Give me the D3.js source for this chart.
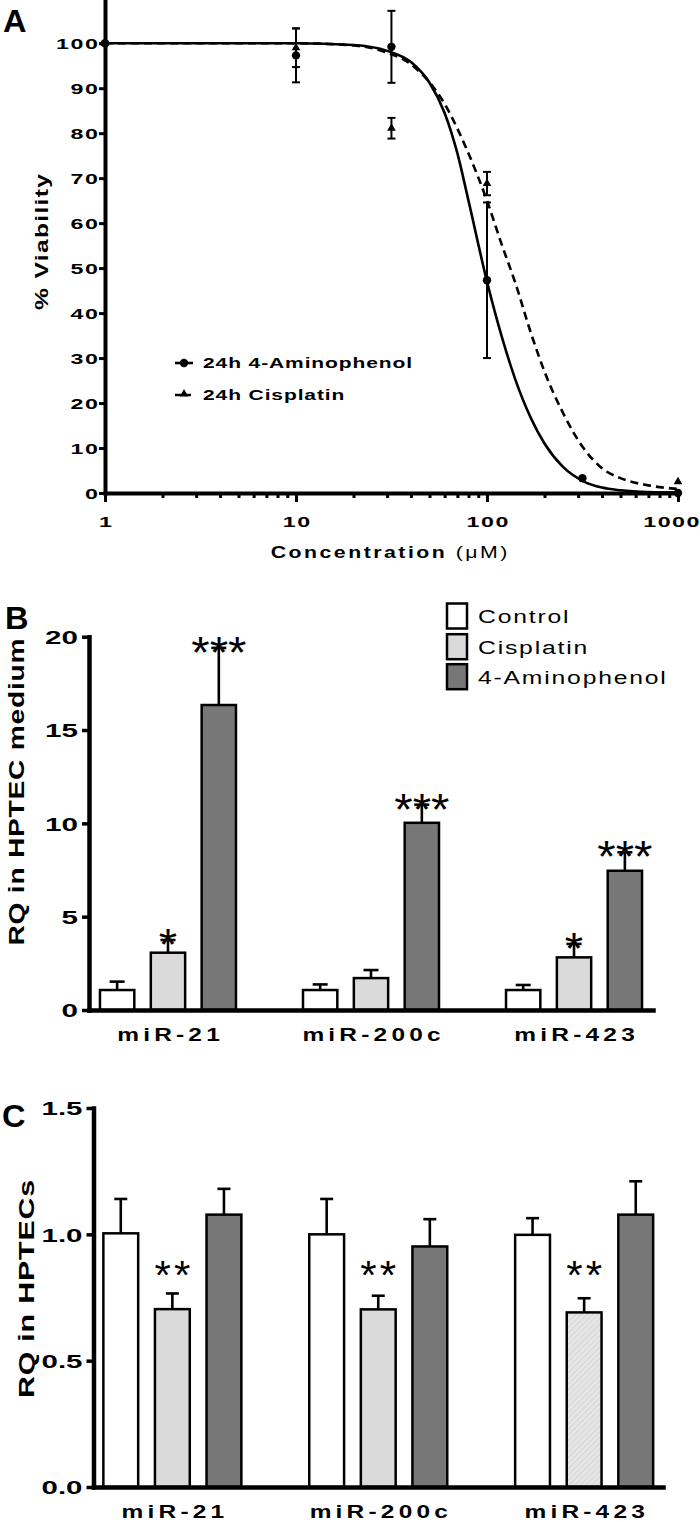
<!DOCTYPE html>
<html><head><meta charset="utf-8">
<script src="https://cdn.jsdelivr.net/npm/d3@7"></script>
<style>body{margin:0;background:#fff}</style>
</head><body>
<svg id="c" width="700" height="1522" xmlns="http://www.w3.org/2000/svg"></svg>
<script>
// ---------- Panel A data ----------
const aminoConc = [1, 10, 31.6, 100, 316, 1000];
const aminoMean = [100, 97.3, 99.2, 47.3, 3.3, 0];
const aminoSD   = [0, 6, 8, 17.3, 0, 0];
const cisConc   = [1, 10, 31.6, 100, 1000];
const cisMean   = [100, 99, 81.1, 68.8, 2.5];
const cisSD     = [0, 4.3, 2.3, 2.6, 0];
// fitted curves
const fitConc  = [1, 10, 20, 30, 40, 50, 60, 70, 80, 100, 120, 140, 170, 200, 250, 320, 400, 500, 700, 1000];
const fitAmino = [100, 100, 99.6, 98.3, 95.8, 91.2, 84.5, 75.5, 65, 47, 34.5, 25.5, 16.6, 11, 5.8, 2.6, 1.2, 0.6, 0.2, 0.1];
const fitCis   = [100, 100, 99.5, 97.9, 95.3, 91.3, 86.5, 81, 75.5, 65, 55, 47, 35.5, 27, 17.8, 10, 5.5, 3.3, 1.7, 0.9];
const xTicksA = [1, 10, 100, 1000];
const xTickLabelsA = ["1", "10", "100", "1000"];
const yTicksA = [0, 10, 20, 30, 40, 50, 60, 70, 80, 90, 100];
const legendA = ["24h 4-Aminophenol", "24h Cisplatin"];

// ---------- Panels B / C data ----------
const mirs = ["miR-21", "miR-200c", "miR-423"];
const treatments = ["Control", "Cisplatin", "4-Aminophenol"];
const mediumControl    = [1.07, 1.07, 1.07];
const mediumControlErr = [0.45, 0.30, 0.27];
const mediumCis        = [3.07, 1.71, 2.82];
const mediumCisErr     = [0.68, 0.43, 0.72];
const mediumAmino      = [16.34, 10.03, 7.46];
const mediumAminoErr   = [3.06, 0.97, 0.99];
const mediumStars      = [["", "*", "***"], ["", "", "***"], ["", "*", "***"]];
const yTicksB = [0, 5, 10, 15, 20];

const cellControl    = [1.004, 1.0, 0.998];
const cellControlErr = [0.136, 0.14, 0.066];
const cellCis        = [0.704, 0.703, 0.691];
const cellCisErr     = [0.062, 0.054, 0.056];
const cellAmino      = [1.078, 0.952, 1.078];
const cellAminoErr   = [0.102, 0.108, 0.132];
const cellStars      = [["", "**", ""], ["", "**", ""], ["", "**", ""]];
const yTicksC = [0, 0.5, 1.0, 1.5];
const yTickLabelsC = ["0.0", "0.5", "1.0", "1.5"];

// ---------- helpers ----------
const FONT = "'Liberation Sans', Arial, Helvetica, sans-serif";
const svg = d3.select("#c");
const fills = {"Control": "#ffffff", "Cisplatin": "#dadada", "4-Aminophenol": "#777777"};

function txt(g, x, y, s, o) {
  const ls = o.ls || 0, sx = o.sx || 1, anchor = o.anchor || "start";
  let comp = 0;
  if (anchor === "end") comp = ls; else if (anchor === "middle") comp = ls / 2;
  const t = g.append("text")
    .attr("transform", `translate(${x},${y}) rotate(${o.rot || 0}) scale(${sx},1)`)
    .attr("x", comp)
    .attr("font-family", FONT).attr("font-size", o.size)
    .attr("font-weight", o.weight || "normal")
    .attr("letter-spacing", ls).attr("text-anchor", anchor)
    .attr("fill", "#000");
  if (s !== null) t.text(s);
  return t;
}
function styleTickText(axisG, o) {
  const ls = o.ls || 0;
  let comp = 0;
  if (o.anchor === "end") comp = ls; else if (o.anchor === "middle") comp = ls / 2;
  axisG.selectAll("text")
    .attr("x", comp).attr("y", null).attr("dy", null)
    .attr("font-family", FONT).attr("font-size", o.size).attr("font-weight", "bold")
    .attr("letter-spacing", ls).attr("text-anchor", o.anchor).attr("fill", "#000")
    .attr("transform", `translate(${o.dx},${o.dy}) scale(${o.sx},1)`);
}

// ================= Panel A =================
const gA = svg.append("g");
const xA = d3.scaleLog().domain([1, 1000]).range([105, 678]);
const yA = d3.scaleLinear().domain([0, 109.5]).range([493, 0.5]);

txt(gA, 3, 32, "A", {size: 31, weight: "bold", sx: 1.05});

// y axis
const yAxA = gA.append("g").attr("transform", "translate(105,0)")
  .call(d3.axisLeft(yA).tickValues(yTicksA).tickSize(6).tickSizeOuter(0).tickFormat(d3.format("d")));
yAxA.select(".domain").attr("stroke-width", 4).attr("stroke-linecap", "square");
yAxA.selectAll(".tick line").attr("stroke-width", 3);
styleTickText(yAxA, {size: 14.5, sx: 1.6, ls: 1, anchor: "end", dx: -7, dy: 5});

// x axis minor ticks
const minorA = [];
[1, 10, 100].forEach(dec => { for (let k = 2; k <= 9; k++) minorA.push(dec * k); });
const xMinA = gA.append("g").attr("transform", "translate(0,493)")
  .call(d3.axisBottom(xA).tickValues(minorA).tickSize(5).tickSizeOuter(0).tickFormat(""));
xMinA.select(".domain").remove();
xMinA.selectAll(".tick line").attr("stroke-width", 3);
// x axis major
const xAxA = gA.append("g").attr("transform", "translate(0,493)")
  .call(d3.axisBottom(xA).tickValues(xTicksA).tickSize(9).tickSizeOuter(0)
    .tickFormat((d, i) => xTickLabelsA[i]));
xAxA.select(".domain").attr("stroke-width", 4).attr("stroke-linecap", "square");
xAxA.selectAll(".tick line").attr("stroke-width", 3);
styleTickText(xAxA, {size: 14.5, sx: 1.6, ls: 1, anchor: "middle", dx: 0, dy: 34});
// keep the last label inside the picture (it touches the right edge in the reference)
xAxA.selectAll(".tick").filter(d => d === 1000).select("text")
  .attr("text-anchor", "end").attr("x", 1).attr("transform", `translate(${699 - xA(1000)},34) scale(1.6,1)`);

// axis titles
txt(gA, 48, 242, "% Viability", {size: 19, weight: "bold", sx: 1.3, ls: 1, anchor: "middle", rot: -90});
const xt = txt(gA, 389, 558, null, {size: 17, weight: "bold", sx: 1.25, ls: 2, anchor: "middle"});
xt.append("tspan").text("Concentration");
xt.append("tspan").attr("font-weight", "normal").text(" (\u03bcM)");

// curves
const lineA = d3.line().x(d => xA(d[0])).y(d => yA(d[1])).curve(d3.curveMonotoneX);
gA.append("path").datum(fitConc.map((c, i) => [c, fitCis[i]]))
  .attr("d", lineA).attr("fill", "none").attr("stroke", "#000").attr("stroke-width", 2.6)
  .attr("stroke-dasharray", "8,5");
gA.append("path").datum(fitConc.map((c, i) => [c, fitAmino[i]]))
  .attr("d", lineA).attr("fill", "none").attr("stroke", "#000").attr("stroke-width", 2.6);

// error bars
function errA(conc, mean, sd) {
  conc.forEach((c, i) => {
    if (!sd[i]) return;
    const x = xA(c), y1 = yA(mean[i] - sd[i]), y2 = yA(mean[i] + sd[i]);
    gA.append("line").attr("x1", x).attr("x2", x).attr("y1", y1).attr("y2", y2).attr("stroke", "#000").attr("stroke-width", 2);
    [y1, y2].forEach(y => gA.append("line").attr("x1", x - 4).attr("x2", x + 4).attr("y1", y).attr("y2", y).attr("stroke", "#000").attr("stroke-width", 2));
  });
}
errA(cisConc, cisMean, cisSD);
errA(aminoConc, aminoMean, aminoSD);
// markers
const tri = d3.symbol(d3.symbolTriangle).size(32);
cisConc.forEach((c, i) => gA.append("path").attr("d", tri).attr("transform", `translate(${xA(c)},${yA(cisMean[i])})`).attr("fill", "#000"));
aminoConc.forEach((c, i) => gA.append("circle").attr("cx", xA(c)).attr("cy", yA(aminoMean[i])).attr("r", 4.2).attr("fill", "#000"));

// legend A
const legY = [363, 395];
gA.append("line").attr("x1", 175).attr("x2", 193).attr("y1", legY[0]).attr("y2", legY[0]).attr("stroke", "#000").attr("stroke-width", 2.6);
gA.append("circle").attr("cx", 184).attr("cy", legY[0]).attr("r", 4.2).attr("fill", "#000");
gA.append("line").attr("x1", 175).attr("x2", 193).attr("y1", legY[1]).attr("y2", legY[1]).attr("stroke", "#000").attr("stroke-width", 2.6).attr("stroke-dasharray", "6,4");
gA.append("path").attr("d", tri).attr("transform", `translate(184,${legY[1] - 1})`).attr("fill", "#000");
legendA.forEach((s, i) => txt(gA, 203, legY[i] + 5, s, {size: 14, weight: "bold", sx: 1.5, ls: 0.6}));

// ================= Bar panels =================
function barPanel(o) {
  const g = svg.append("g");
  const y = d3.scaleLinear().domain(o.yDomain).range([o.y0, o.y1]);
  const x0 = d3.scalePoint().domain(mirs).range([o.xL, o.xR]).padding(o.pad);
  const x1 = d3.scaleBand().domain(treatments).range([-o.half, o.half]).paddingInner(0.325).paddingOuter(0);
  txt(g, o.labX, o.labY, o.label, {size: 31, weight: "bold", sx: 1.05});

  const series = [o.control, o.cis, o.amino];
  const errs = [o.controlErr, o.cisErr, o.aminoErr];
  mirs.forEach((m, mi) => {
    treatments.forEach((t, ti) => {
      const v = series[ti][mi], e = errs[ti][mi];
      const bx = x0(m) + x1(t), bw = x1.bandwidth(), cx = bx + bw / 2;
      g.append("line").attr("x1", cx).attr("x2", cx).attr("y1", y(v)).attr("y2", y(v + e)).attr("stroke", "#000").attr("stroke-width", 2.6);
      g.append("line").attr("x1", cx - o.cap / 2).attr("x2", cx + o.cap / 2).attr("y1", y(v + e)).attr("y2", y(v + e)).attr("stroke", "#000").attr("stroke-width", 2.6);
      const fill = (o.hatch && mi === 2 && ti === 1) ? "url(#hatch)" : fills[t];
      g.append("rect").attr("x", bx).attr("y", y(v)).attr("width", bw).attr("height", y(0) - y(v))
        .attr("fill", fill).attr("stroke", "#000").attr("stroke-width", 2.5);
      const star = o.stars[mi][ti];
      if (star) {
        const cy = o.starLevel !== undefined ? y(o.starLevel) : y(v + e) - 5;
        txt(g, cx, cy + o.starSize * 0.553, star, {size: o.starSize, sx: 1.05, ls: o.starLs, anchor: "middle"});
      }
    });
  });

  const ya = g.append("g").attr("transform", `translate(${o.xL},0)`)
    .call(d3.axisLeft(y).tickValues(o.yTicks).tickSize(7).tickSizeOuter(0)
      .tickFormat((d, i) => o.yTickLabels ? o.yTickLabels[i] : d));
  ya.select(".domain").attr("stroke-width", 4.5).attr("stroke-linecap", "square");
  ya.selectAll(".tick line").attr("stroke-width", 3.5);
  styleTickText(ya, {size: o.tickSize, sx: o.tickSx, ls: o.tickLs, anchor: "end", dx: -11, dy: o.tickSize * 0.36});
  const xa = g.append("g").attr("transform", `translate(0,${o.y0})`)
    .call(d3.axisBottom(x0).tickSize(0).tickSizeOuter(0));
  xa.select(".domain").attr("stroke-width", 4.5).attr("stroke-linecap", "square");
  styleTickText(xa, {size: 17.5, sx: 1.4, ls: 3, anchor: "middle", dx: 0, dy: 31});
  txt(g, o.titleX, o.titleY, o.title, {size: o.titleSize, weight: "bold", sx: o.titleSx, ls: 0.6, anchor: "middle", rot: -90});
  return g;
}

const defs = svg.append("defs");
const pat = defs.append("pattern").attr("id", "hatch").attr("patternUnits", "userSpaceOnUse").attr("width", 4).attr("height", 4)
  .attr("patternTransform", "rotate(45)");
pat.append("rect").attr("width", 4).attr("height", 4).attr("fill", "#e6e6e6");
pat.append("line").attr("x1", 0).attr("y1", 0).attr("x2", 0).attr("y2", 4).attr("stroke", "#cdcdcd").attr("stroke-width", 1.5);

barPanel({
  label: "B", labX: 5, labY: 629,
  yDomain: [0, 20], y0: 1010, y1: 636.7, yTicks: yTicksB,
  xL: 89, xR: 653, pad: 0.389, half: 68, cap: 15,
  control: mediumControl, controlErr: mediumControlErr, cis: mediumCis, cisErr: mediumCisErr,
  amino: mediumAmino, aminoErr: mediumAminoErr, stars: mediumStars, starSize: 45, starLs: 0,
  tickSize: 18.5, tickSx: 1.6, tickLs: 0,
  title: "RQ in HPTEC medium", titleX: 24, titleY: 792, titleSize: 22, titleSx: 1.28
});
barPanel({
  label: "C", labX: 2, labY: 1127,
  yDomain: [0, 1.5], y0: 1487, y1: 1108, yTicks: yTicksC, yTickLabels: yTickLabelsC,
  xL: 93.5, xR: 663, pad: 0.383, half: 69, cap: 13, hatch: true,
  control: cellControl, controlErr: cellControlErr, cis: cellCis, cisErr: cellCisErr,
  amino: cellAmino, aminoErr: cellAminoErr, stars: cellStars, starSize: 40, starLs: 3, starLevel: 0.87,
  tickSize: 19, tickSx: 1.55, tickLs: 0,
  title: "RQ in HPTECs", titleX: 34, titleY: 1289, titleSize: 22, titleSx: 1.38
});

const legB = svg.append("g");
const legRows = [616, 646.7, 676.7];
treatments.forEach((t, i) => {
  legB.append("rect").attr("x", 447).attr("y", legRows[i] - 12.5).attr("width", 20).attr("height", 25)
    .attr("fill", fills[t]).attr("stroke", "#000").attr("stroke-width", 2.5);
  txt(legB, 478, legRows[i] + 7, t, {size: 19, sx: 1.3, ls: 1.4});
});
</script>
</body></html>
